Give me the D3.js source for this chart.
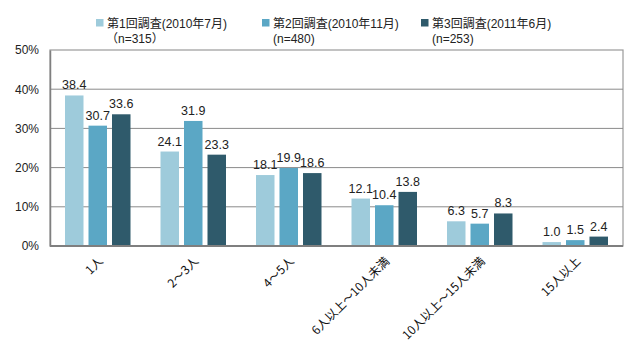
<!DOCTYPE html>
<html><head><meta charset="utf-8">
<script src="https://cdn.jsdelivr.net/npm/d3@7"></script>
<style>body{margin:0;background:#fff}svg{display:block}</style>
</head><body>
<svg id="c" width="640" height="356"></svg>
<script>
const categories = ["1人","2～3人","4～5人","6人以上～10人未満","10人以上～15人未満","15人以上"];
const seriesNames = ["第1回調査(2010年7月)","第2回調査(2010年11月)","第3回調査(2011年6月)"];
const seriesNotes = ["（n=315）","(n=480)","(n=253)"];
const s1 = [38.4,24.1,18.1,12.1,6.3,1.0];
const s2 = [30.7,31.9,19.9,10.4,5.7,1.5];
const s3 = [33.6,23.3,18.6,13.8,8.3,2.4];
const yTicks = [0,10,20,30,40,50];
const colors = ["#9ecbdb","#5ba7c5","#2f5a6b"];
const series = [s1,s2,s3];

const svg = d3.select("#c");
const L=50,R=623,T=50,B=246;
const font = "Arial, 'Liberation Sans', 'Noto Sans CJK JP', sans-serif";
const x = d3.scaleBand().domain(categories).range([L,R]);
const y = d3.scaleLinear().domain([0,50]).range([B,T]);
const bw = 18.5, step = 23.5;

// frame
svg.append("rect").attr("x",L).attr("y",T).attr("width",R-L).attr("height",B-T)
  .attr("fill","none").attr("stroke","#9a9a9a").attr("stroke-width",1.2);
// grid
svg.append("g").selectAll("line").data(yTicks.slice(1,-1)).join("line")
  .attr("x1",L).attr("x2",R).attr("y1",d=>y(d)).attr("y2",d=>y(d))
  .attr("stroke","#8a8a8a").attr("stroke-width",1);
// y axis
const ya = svg.append("g").attr("transform",`translate(${L},0)`)
  .call(d3.axisLeft(y).tickValues(yTicks).tickFormat(d=>d+"%").tickSize(0).tickPadding(11));
ya.select(".domain").attr("stroke","#7f7f7f").attr("stroke-width",1.5);
ya.selectAll("text").attr("font-family",font).attr("font-size",12).attr("fill","#222");

// bars
series.forEach((s,i)=>{
  const g = svg.append("g");
  g.selectAll("rect").data(s).join("rect")
    .attr("x",(d,j)=>x(categories[j])+x.bandwidth()/2+(i-1)*step-bw/2)
    .attr("width",bw)
    .attr("y",d=>y(d)).attr("height",d=>B-y(d))
    .attr("fill",colors[i]);
  g.selectAll("text").data(s).join("text")
    .attr("x",(d,j)=>x(categories[j])+x.bandwidth()/2+(i-1)*step)
    .attr("y",d=>y(d)-6)
    .attr("text-anchor","middle").attr("font-family",font).attr("font-size",12.5).attr("fill","#222")
    .text(d=>d.toFixed(1));
});

// bottom axis
svg.append("line").attr("x1",L).attr("x2",R).attr("y1",B).attr("y2",B)
  .attr("stroke","#7f7f7f").attr("stroke-width",2);

// x labels
svg.append("g").selectAll("text").data(categories).join("text")
  .attr("transform",d=>`translate(${x(d)+x.bandwidth()/2+6},${B+16}) rotate(-45)`)
  .attr("text-anchor","end").attr("font-family","'Noto Sans CJK JP', sans-serif")
  .attr("font-size",12).attr("fill","#111").text(d=>d);

// legend
const lx = [96,262,421];
seriesNames.forEach((n,i)=>{
  svg.append("rect").attr("x",lx[i]).attr("y",19).attr("width",7.5).attr("height",7.5).attr("fill",colors[i]);
  svg.append("text").attr("x",lx[i]+11).attr("y",28).attr("font-family",font).attr("font-size",12).attr("fill","#222").text(n);
  svg.append("text").attr("x",lx[i]+(i===0?10:11)).attr("y",43).attr("font-family",font).attr("font-size",12).attr("fill","#222").text(seriesNotes[i]);
});
</script>
</body></html>
